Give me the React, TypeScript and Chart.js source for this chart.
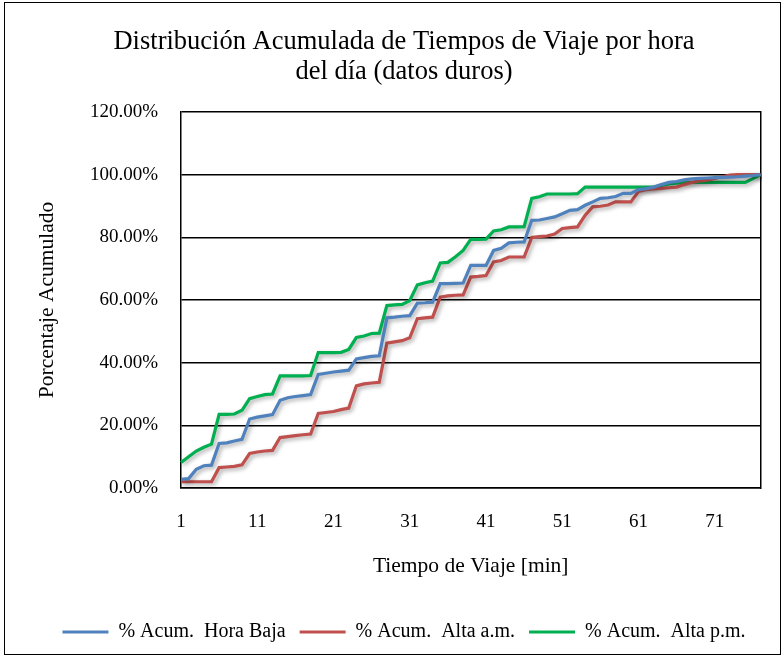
import React, { useEffect, useRef } from "react";
import { Chart, registerables } from "chart.js";

Chart.register(...registerables);

const chartTitle = ["Distribución Acumulada de Tiempos de Viaje por hora", "del día (datos duros)"];
const xAxisTitle = "Tiempo de Viaje [min]";
const yAxisTitle = "Porcentaje Acumulado";

const categories = [
  "1", "2", "3", "4", "5", "6", "7", "8", "9", "10",
  "11", "12", "13", "14", "15", "16", "17", "18", "19", "20",
  "21", "22", "23", "24", "25", "26", "27", "28", "29", "30",
  "31", "32", "33", "34", "35", "36", "37", "38", "39", "40",
  "41", "42", "43", "44", "45", "46", "47", "48", "49", "50",
  "51", "52", "53", "54", "55", "56", "57", "58", "59", "60",
  "61", "62", "63", "64", "65", "66", "67", "68", "69", "70",
  "71", "72", "73", "74", "75", "76", "77",
];

const seriesNames = ["% Acum.  Hora Baja", "% Acum.  Alta a.m.", "% Acum.  Alta p.m."];

const horaBaja = [
  2.8, 3.0, 6.0, 7.1, 7.3, 14.2, 14.4, 15.0, 15.5, 22.0,
  22.6, 23.0, 23.4, 28.0, 28.8, 29.2, 29.5, 29.8, 36.2, 36.6,
  37.0, 37.3, 37.6, 41.2, 41.6, 42.0, 42.2, 54.3, 54.5, 54.8,
  55.0, 59.0, 59.1, 59.3, 65.2, 65.2, 65.3, 65.4, 71.0, 71.0,
  71.0, 75.8, 76.5, 78.2, 78.4, 78.5, 85.4, 85.5, 86.0, 86.5,
  87.5, 88.6, 88.8, 90.2, 91.3, 92.4, 92.6, 93.0, 94.0, 94.0,
  95.2, 95.5, 96.0, 96.8, 97.5, 97.8, 98.3, 98.6, 98.8, 98.9,
  99.0, 99.1, 99.2, 99.3, 99.5, 99.7, 100.0,
];

const altaAm = [
  2.0, 2.0, 2.0, 2.0, 2.0, 6.5, 6.7, 6.9, 7.4, 11.0,
  11.5, 11.8, 12.0, 16.1, 16.4, 16.7, 17.0, 17.2, 23.8, 24.1,
  24.4, 25.0, 25.5, 32.6, 33.2, 33.5, 33.7, 46.2, 46.6, 47.0,
  47.9, 54.0, 54.3, 54.5, 60.9, 61.3, 61.5, 61.6, 67.3, 67.5,
  67.8, 72.1, 72.6, 73.7, 73.7, 73.7, 79.9, 80.2, 80.4, 81.0,
  82.8, 83.1, 83.3, 87.0, 89.7, 89.9, 90.3, 91.3, 91.3, 91.3,
  94.6, 95.2, 95.4, 95.6, 95.8, 96.0, 96.8, 97.5, 98.0, 98.2,
  98.8, 99.3, 99.8, 100.0, 100.0, 100.0, 100.0,
];

const altaPm = [
  8.1, 10.0, 11.8, 13.0, 14.0, 23.5, 23.5, 23.6, 24.8, 28.5,
  29.2, 29.8, 30.0, 35.8, 35.8, 35.8, 35.8, 35.9, 43.2, 43.2,
  43.2, 43.3, 44.2, 48.0, 48.5, 49.3, 49.4, 58.2, 58.4, 58.6,
  59.8, 64.8, 65.5, 66.0, 71.8, 72.0, 73.8, 75.8, 79.3, 79.3,
  79.4, 82.0, 82.4, 83.3, 83.3, 83.4, 92.4, 92.9, 93.8, 93.8,
  93.8, 93.8, 93.9, 96.0, 96.0, 96.0, 96.0, 96.0, 96.0, 96.0,
  96.0, 96.0, 96.0, 96.5, 97.0, 97.3, 97.5, 97.5, 97.5, 97.5,
  97.5, 97.5, 97.5, 97.5, 97.5, 98.7, 100.0,
];

const seriesColors = ["#4F81BD", "#C0504D", "#00B050"];

const FONT = "'Liberation Serif', 'DejaVu Serif', serif";

const shadowPlugin = {
  id: "lineShadow",
  beforeDatasetsDraw(chart: any) {
    const c = chart.ctx;
    c.save();
    c.shadowColor = "rgba(0,0,0,0.35)";
    c.shadowBlur = 4;
    c.shadowOffsetX = 2;
    c.shadowOffsetY = 2;
  },
  afterDatasetsDraw(chart: any) {
    chart.ctx.restore();
  },
};

const framePlugin = {
  id: "outerFrame",
  afterDraw(chart: any) {
    const c = chart.ctx;
    c.save();
    c.strokeStyle = "#000";
    c.lineWidth = 1;
    c.strokeRect(4.5, 2.5, 776, 652);
    c.restore();
  },
};

export default function App() {
  const ref = useRef<HTMLCanvasElement | null>(null);

  useEffect(() => {
    if (!ref.current) return;
    const chart = new Chart(ref.current, {
      type: "line",
      data: {
        labels: categories,
        datasets: [horaBaja, altaAm, altaPm].map((d, i) => ({
          label: seriesNames[i],
          data: d,
          borderColor: seriesColors[i],
          backgroundColor: seriesColors[i],
          borderWidth: 3.2,
          pointRadius: 0,
          tension: 0,
          fill: false,
          yAxisID: "y",
        })),
      },
      options: {
        responsive: false,
        animation: false,
        layout: { padding: { left: 25, right: 0, top: 0, bottom: 6 } },
        plugins: {
          title: {
            display: true,
            text: chartTitle,
            color: "#000",
            font: { family: FONT, size: 26.5, weight: "normal", lineHeight: 1.13 },
            padding: { top: 27, bottom: 25 },
          },
          legend: {
            display: true,
            position: "bottom",
            labels: {
              color: "#000",
              font: { family: FONT, size: 20 },
              usePointStyle: true,
              pointStyle: "line",
              pointStyleWidth: 46,
              boxHeight: 20,
              padding: 14,
            },
          },
          tooltip: { enabled: false },
        },
        scales: {
          x: {
            type: "category",
            offset: false,
            grid: { display: false, drawTicks: false },
            border: { display: true, color: "#000", width: 1.5 },
            ticks: {
              autoSkip: false,
              maxRotation: 0,
              minRotation: 0,
              padding: 22.5,
              color: "#000",
              font: { family: FONT, size: 19 },
              callback: (_v: any, idx: number) => (idx % 10 === 0 ? categories[idx] : ""),
            },
            title: {
              display: true,
              text: xAxisTitle,
              color: "#000",
              font: { family: FONT, size: 21.5 },
              padding: { top: 0, bottom: 29 },
            },
            afterFit: (s: any) => {
              s.height = 120;
            },
          },
          y: {
            position: "left",
            min: 0,
            max: 120,
            grid: { color: "#000", lineWidth: 1.5, drawTicks: false },
            border: { display: true, color: "#000", width: 1.5 },
            ticks: {
              stepSize: 20,
              padding: 23,
              color: "#000",
              font: { family: FONT, size: 19 },
              callback: (v: any) => Number(v).toFixed(2) + "%",
            },
            title: {
              display: true,
              text: yAxisTitle,
              color: "#000",
              font: { family: FONT, size: 21.5 },
              padding: { top: 9, bottom: 0 },
            },
            afterFit: (s: any) => {
              s.width = 156;
            },
          },
          y2: {
            position: "right",
            min: 0,
            max: 120,
            grid: { display: false, drawTicks: false },
            border: { display: true, color: "#000", width: 1.5 },
            ticks: { display: false },
            afterFit: (s: any) => {
              s.width = 17;
            },
          },
        },
      },
      plugins: [shadowPlugin, framePlugin],
    } as any);
    return () => chart.destroy();
  }, []);

  return (
    <div style={{ position: "absolute", left: 0, top: 0, width: 783, height: 658, background: "#fff" }}>
      <canvas ref={ref} width={783} height={658} />
    </div>
  );
}
